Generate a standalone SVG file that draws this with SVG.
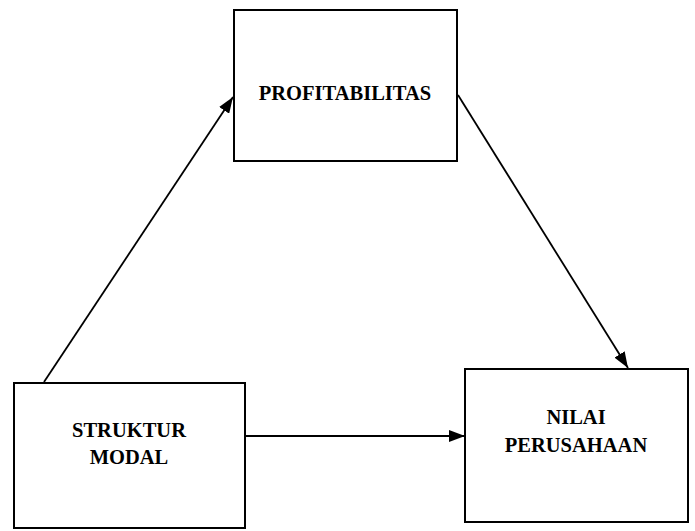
<svg xmlns="http://www.w3.org/2000/svg" width="695" height="531" viewBox="0 0 695 531">
  <style>
    .box { fill: #ffffff; stroke: #000000; stroke-width: 2; }
    .edge { fill: none; stroke: #000000; stroke-width: 1.8; marker-end: url(#head); }
    .label { font-family: "Liberation Serif", "Times New Roman", serif; font-weight: bold; font-size: 20.5px; fill: #000000; text-anchor: middle; }
  </style>
  <defs>
    <marker id="head" viewBox="0 0 16 12" refX="16" refY="6" markerWidth="16" markerHeight="12" markerUnits="userSpaceOnUse" orient="auto">
      <path d="M0,0 L16,6 L0,12 Z" fill="#000000"/>
    </marker>
  </defs>
  <rect width="695" height="531" fill="#ffffff"/>

  <g id="connectors">
    <line class="edge" x1="44" y1="382" x2="233" y2="97"/>
    <line class="edge" x1="458" y1="95" x2="628" y2="368"/>
    <line class="edge" x1="246" y1="436" x2="465" y2="436"/>
  </g>

  <g id="profitabilitas">
    <rect class="box" x="234" y="10" width="223" height="151"/>
    <text class="label" x="345" y="100">PROFITABILITAS</text>
  </g>

  <g id="struktur-modal">
    <rect class="box" x="14" y="383" width="231" height="145"/>
    <text class="label" x="129" y="437">STRUKTUR</text>
    <text class="label" x="129" y="464">MODAL</text>
  </g>

  <g id="nilai-perusahaan">
    <rect class="box" x="465" y="369" width="223" height="153"/>
    <text class="label" x="576" y="424">NILAI</text>
    <text class="label" x="576" y="452">PERUSAHAAN</text>
  </g>
</svg>
